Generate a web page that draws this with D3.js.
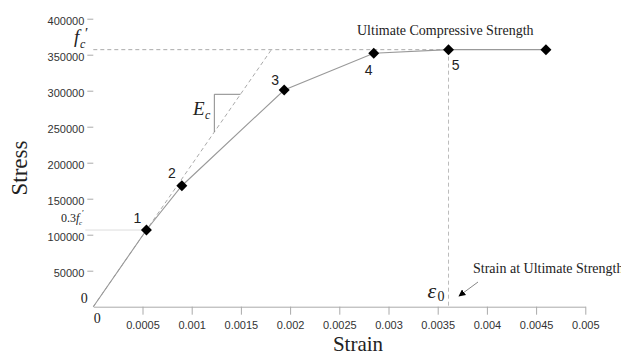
<!DOCTYPE html>
<html>
<head>
<meta charset="utf-8">
<script src="https://cdn.jsdelivr.net/npm/d3@7"></script>
<style>
  body { margin: 0; background: #fff; }
  svg { display: block; }
  .tick text { font-family: "Liberation Sans", Arial, sans-serif; font-size: 11px; fill: #333; }
  .serif { font-family: "Liberation Serif", "Times New Roman", serif; fill: #222; }
</style>
</head>
<body>
<svg id="chart" width="621" height="352"></svg>
<script>
// stress-strain points (numbered points 1..5 plus the end point)
const strain = [0, 0.00054, 0.0009, 0.00194, 0.00285, 0.00361, 0.0046];
const stress = [0, 106500, 168000, 301000, 352000, 357000, 357000];
const pointLabels = ["", "1", "2", "3", "4", "5", ""];
const xTicks = [0.0005, 0.001, 0.0015, 0.002, 0.0025, 0.003, 0.0035, 0.004, 0.0045, 0.005];
const yTicks = [50000, 100000, 150000, 200000, 250000, 300000, 350000, 400000];
const fc = 357000;          // ultimate compressive strength
const eps0 = 0.00361;       // strain at ultimate strength
const ecStrain = 0.00181;   // where the Ec line meets fc
const slopeCorner = [0.00123, 295000];

const svg = d3.select("#chart");
const x = d3.scaleLinear().domain([0, 0.005]).range([93.3, 585.3]);
const y = d3.scaleLinear().domain([0, 400000]).range([306.7, 18.7]);
const Ec = fc / ecStrain;

// x axis
const xAxis = svg.append("g")
  .attr("transform", "translate(0," + y(0) + ")")
  .call(d3.axisBottom(x).tickValues(xTicks).tickSize(8).tickSizeOuter(0).tickPadding(7)
    .tickFormat(d => String(+d.toFixed(4))));
xAxis.select(".domain").attr("stroke", "#aaa");
xAxis.selectAll(".tick line").attr("stroke", "#aaa");

// y axis (no spine)
const yAxis = svg.append("g")
  .attr("transform", "translate(" + x(0) + ",0)")
  .call(d3.axisLeft(y).tickValues(yTicks).tickSize(6).tickPadding(3).tickFormat(d3.format("d")));
yAxis.select(".domain").remove();
yAxis.selectAll(".tick line").attr("stroke", "#aaa");
yAxis.selectAll(".tick text").attr("dy", "0.55em");

// origin zeros
svg.append("text").attr("class", "serif").attr("x", x(0) - 9).attr("y", y(0) - 4)
  .attr("text-anchor", "middle").attr("font-size", 14).text("0");
svg.append("text").attr("class", "serif").attr("x", x(0) + 4).attr("y", y(0) + 16)
  .attr("text-anchor", "middle").attr("font-size", 14).text("0");

// dashed helper lines
const dash = "4,3";
svg.append("line").attr("x1", x(0)).attr("y1", y(fc)).attr("x2", x(eps0)).attr("y2", y(fc))
  .attr("stroke", "#aaa").attr("stroke-dasharray", dash);
svg.append("line").attr("x1", x(eps0)).attr("y1", y(fc)).attr("x2", x(eps0)).attr("y2", y(0))
  .attr("stroke", "#bbb").attr("stroke-dasharray", dash);
svg.append("line").attr("x1", x(0)).attr("y1", y(0)).attr("x2", x(ecStrain)).attr("y2", y(fc))
  .attr("stroke", "#aaa").attr("stroke-dasharray", dash);
// 0.3 f'c level
svg.append("line").attr("x1", x(0) - 8).attr("y1", y(stress[1])).attr("x2", x(strain[1])).attr("y2", y(stress[1]))
  .attr("stroke", "#ddd");

// slope triangle
svg.append("path")
  .attr("d", d3.line()([
    [x(slopeCorner[0]), y(slopeCorner[0] * Ec)],
    [x(slopeCorner[0]), y(slopeCorner[1])],
    [x(slopeCorner[1] / Ec), y(slopeCorner[1])]
  ]))
  .attr("fill", "none").attr("stroke", "#888");

// curve
const pts = strain.map((s, i) => [s, stress[i]]);
svg.append("path")
  .datum(pts)
  .attr("d", d3.line().x(d => x(d[0])).y(d => y(d[1])))
  .attr("fill", "none").attr("stroke", "#999").attr("stroke-width", 1.1);

svg.selectAll(".mk")
  .data(pts.slice(1))
  .enter().append("path")
  .attr("class", "mk")
  .attr("d", d3.symbol(d3.symbolSquare, 60))
  .attr("transform", d => "translate(" + x(d[0]) + "," + y(d[1]) + ") rotate(45)")
  .attr("fill", "#000");

// point numbers
const labelOffsets = [[0, 0], [-9, -12], [-10, -13], [-9, -10], [-5, 17], [7, 15], [0, 0]];
svg.selectAll(".pl")
  .data(pts)
  .enter().append("text")
  .attr("x", (d, i) => x(d[0]) + labelOffsets[i][0])
  .attr("y", (d, i) => y(d[1]) + labelOffsets[i][1])
  .attr("dy", "0.36em")
  .attr("text-anchor", "middle")
  .attr("font-family", "Liberation Sans, Arial, sans-serif")
  .attr("font-size", 14)
  .attr("fill", "#222")
  .text((d, i) => pointLabels[i]);

// f'c symbol
function serifText(tx, ty, size, txt, italic) {
  return svg.append("text").attr("class", "serif").attr("x", tx).attr("y", ty)
    .attr("font-size", size).attr("font-style", italic ? "italic" : "normal").text(txt);
}
serifText(74, 43, 19, "f", true);
serifText(80, 48, 12, "c", true);
serifText(85, 38, 15, "′", false);

// 0.3 f'c
serifText(61, 222, 12, "0.3", false).attr("fill", "#555");
serifText(76, 222, 12, "f", true).attr("fill", "#555");
serifText(79, 225, 7, "c", true).attr("fill", "#555");
serifText(82, 216, 9, "′", false).attr("fill", "#555");

// Ec
serifText(193, 115, 19, "E", true);
serifText(205, 119, 12, "c", true);

// eps0
serifText(x(eps0) - 21, 298, 22, "ε", true);
serifText(x(eps0) - 11, 301, 14, "0", false);

svg.append("text").attr("class", "serif").attr("x", 357).attr("y", 35)
  .attr("font-size", 14).text("Ultimate Compressive Strength");
svg.append("text").attr("class", "serif").attr("x", 473).attr("y", 273)
  .attr("font-size", 14).text("Strain at Ultimate Strength");

// arrow
svg.append("defs").append("marker")
  .attr("id", "ah").attr("viewBox", "0 0 10 10").attr("refX", 9).attr("refY", 5)
  .attr("markerWidth", 7).attr("markerHeight", 7).attr("orient", "auto")
  .append("path").attr("d", "M0,0L10,5L0,10Z").attr("fill", "#000");
svg.append("line").attr("x1", 478).attr("y1", 282).attr("x2", 459).attr("y2", 296)
  .attr("stroke", "#888").attr("marker-end", "url(#ah)");

// axis titles
svg.append("text").attr("class", "serif").attr("x", 358).attr("y", 351)
  .attr("text-anchor", "middle").attr("font-size", 21).text("Strain");
svg.append("text").attr("class", "serif")
  .attr("transform", "translate(27,168) rotate(-90)")
  .attr("text-anchor", "middle").attr("font-size", 23).text("Stress");
</script>
</body>
</html>
